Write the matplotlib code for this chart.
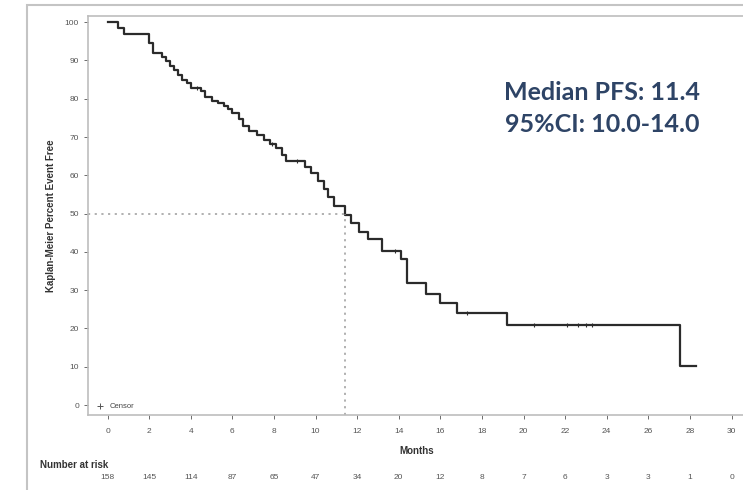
import numpy as np
import matplotlib.pyplot as plt
from matplotlib.lines import Line2D
from matplotlib.patches import Rectangle
from matplotlib.transforms import blended_transform_factory

plt.rcParams["font.family"] = ["Liberation Sans", "DejaVu Sans"]

# Kaplan-Meier step curve (months, percent event free after the step)
km_months = [0, 0.5, 0.8, 2.0, 2.2, 2.6, 2.8, 3.0, 3.2, 3.4, 3.6, 3.8, 4.0,
             4.5, 4.7, 5.0, 5.3, 5.6, 5.8, 6.0, 6.3, 6.5, 6.8, 7.2, 7.5,
             7.8, 8.1, 8.4, 8.6, 9.5, 9.8, 10.1, 10.4, 10.6, 10.9, 11.4,
             11.7, 12.1, 12.5, 13.2, 14.1, 14.4, 15.3, 16.0, 16.8, 19.2,
             27.5, 28.3]
km_surv = [100, 98.4, 96.9, 94.5, 92.0, 91.0, 89.8, 88.6, 87.4, 86.2, 85.0,
           84.0, 82.8, 81.9, 80.4, 79.4, 78.8, 78.0, 77.3, 76.2, 74.7, 72.8,
           71.5, 70.4, 69.2, 68.2, 67.0, 65.3, 63.8, 62.2, 60.5, 58.6, 56.5,
           54.3, 52.0, 49.6, 47.5, 45.2, 43.3, 40.3, 38.2, 31.8, 29.0, 26.7,
           24.0, 21.0, 10.2, 10.2]
censor_months = [4.3, 7.9, 9.1, 13.8, 17.3, 20.5, 22.1, 22.6, 23.0, 23.3]

median_pfs = 11.4
risk_months = list(range(0, 31, 2))
risk_counts = [158, 145, 114, 87, 65, 47, 34, 20, 12, 8, 7, 6, 3, 3, 1, 0]

W, H = 743, 490
fig = plt.figure(figsize=(W / 100, H / 100), dpi=100)

# outer frame of the pasted picture
fig.patches.append(Rectangle((27 / W, -0.05), 1.1, 1 - 5 / H + 0.05,
                             transform=fig.transFigure, fill=False,
                             edgecolor="#c4c4c4", linewidth=1.5))

ax = fig.add_axes([88 / W, 1 - 415 / H, (745 - 88) / W, (415 - 16) / H])
x0 = (88 - 107.5) / 20.8
ax.set_xlim(x0, (745 - 107.5) / 20.8)
ax.set_ylim(-2.6, 101.6)

ax.step(km_months, km_surv, where="post", color="#2b2b2b", linewidth=1.6)

# censor marks on the curve
cens_y = [km_surv[np.searchsorted(km_months, c, side="right") - 1] for c in censor_months]
ax.plot(censor_months, cens_y, linestyle="none", marker="|", markersize=3.5,
        color="#2b2b2b", markeredgewidth=0.8)

# median reference lines
ax.plot([x0, median_pfs], [50, 50], linestyle=(0, (1.2, 2.5)), color="#aaaaaa", linewidth=1.3)
ax.plot([median_pfs, median_pfs], [-2.6, 50], linestyle=(0, (1.2, 2.5)), color="#aaaaaa", linewidth=1.3)

ax.set_xticks(risk_months)
ax.set_yticks(range(0, 101, 10))
ax.tick_params(axis="both", labelsize=6, colors="#555555", length=3, width=0.6)
ax.tick_params(axis="x", pad=6)
for s in ["top", "left", "bottom"]:
    ax.spines[s].set_color("#bdbdbd")
    ax.spines[s].set_linewidth(1.2)
ax.spines["right"].set_visible(False)

ax.set_xlabel("Months", fontsize=7, fontweight="bold", color="#333333", labelpad=8)
ax.set_ylabel("Kaplan-Meier Percent Event Free", fontsize=7, fontweight="bold",
              color="#333333", labelpad=6)

ax.legend(handles=[Line2D([], [], marker="+", linestyle="none", color="#555555",
                          markersize=4, markeredgewidth=0.7)],
          labels=["Censor"], loc="lower left", frameon=False, fontsize=5.5,
          handletextpad=0.2, borderaxespad=0.2, labelcolor="#444444")

fig.text(602 / W, 1 - 92 / H, "Median PFS: 11.4", ha="center", va="center",
         fontsize=18, fontweight="bold", color="#2e4466", family=["Lato", "DejaVu Sans"])
fig.text(602 / W, 1 - 125 / H, "95%CI: 10.0-14.0", ha="center", va="center",
         fontsize=18, fontweight="bold", color="#2e4466", family=["Lato", "DejaVu Sans"])

# number at risk table
fig.text(40 / W, 1 - 465 / H, "Number at risk", fontsize=7, fontweight="bold",
         color="#333333", va="center")
trans = blended_transform_factory(ax.transData, fig.transFigure)
for m, n in zip(risk_months, risk_counts):
    ax.text(m, 1 - 477 / H, str(n), transform=trans, ha="center", va="center",
            fontsize=6, color="#555555", clip_on=False)

fig.savefig("out.png", dpi=100)
